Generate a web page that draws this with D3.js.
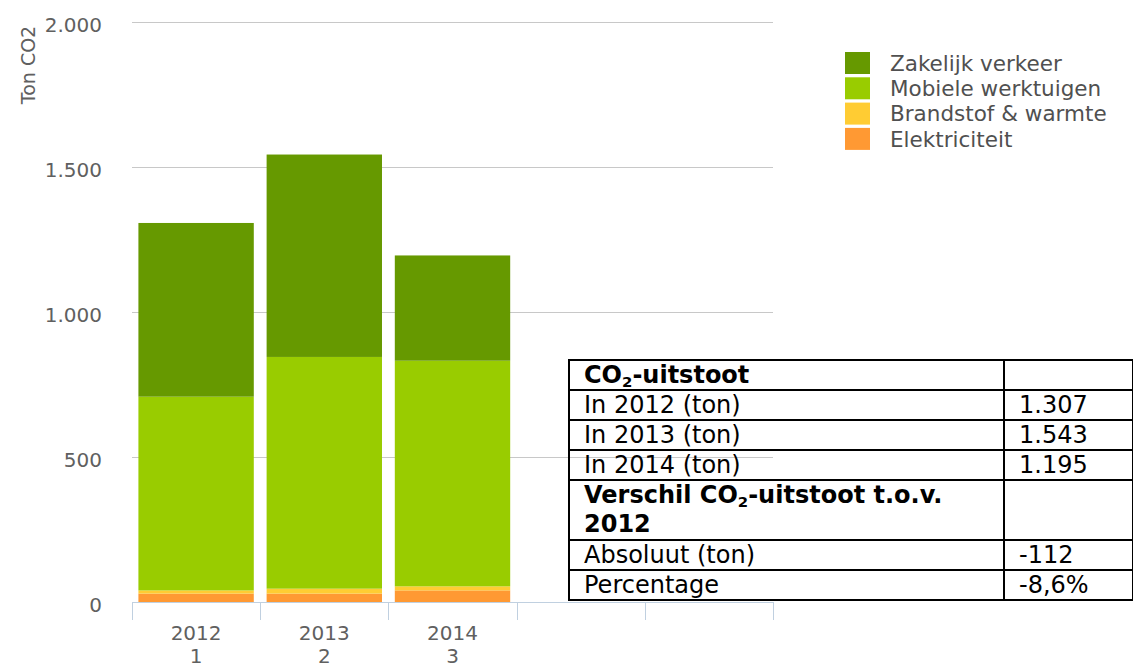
<!DOCTYPE html>
<html>
<head>
<meta charset="utf-8">
<script src="https://cdn.jsdelivr.net/npm/d3@7"></script>
<style>
    body { margin: 0; background: #fff; }
    #wrap { position: relative; width: 1133px; height: 668px; overflow: hidden; }
    svg text { font-family: "DejaVu Sans", sans-serif; fill: #606060; }
    table.co2 {
        position: absolute; left: 568px; top: 359px; width: 564px;
        border-collapse: collapse; table-layout: fixed;
        font-family: "DejaVu Sans", Verdana, sans-serif; font-size: 24px; color: #000;
    }
    table.co2 td { border: 2px solid #000; padding: 0 0 0 14px; line-height: 28px; vertical-align: top; }
    table.co2 td.b { font-weight: bold; }
    table.co2 tr.two td { line-height: 29px; }
    table.co2 sub { font-size: 0.62em; vertical-align: -0.28em; line-height: 0; }
</style>
</head>
<body>
<div id="wrap"></div>
<script>
    var years = ["2012", "2013", "2014"],
        yearNums = ["1", "2", "3"],
        seriesNames = ["Elektriciteit", "Brandstof & warmte", "Mobiele werktuigen", "Zakelijk verkeer"],
        seriesColors = ["#ff9933", "#ffcc33", "#99cc00", "#669900"],
        elektriciteit = [29, 29, 40],
        brandstof = [11, 17, 14],
        mobiele = [668, 799, 778],
        zakelijk = [599, 698, 363],
        yTicks = [0, 500, 1000, 1500, 2000];

    var slots = 5;   // the axis has room for five categories, only three are filled

    var nl = d3.formatLocale({ decimal: ",", thousands: ".", grouping: [3], currency: ["€", ""] }),
        fmtInt = nl.format(",d"),
        fmtPct = nl.format(".1%");

    var rows = years.map(function (y, i) {
        return {
            year: y,
            num: yearNums[i],
            "Elektriciteit": elektriciteit[i],
            "Brandstof & warmte": brandstof[i],
            "Mobiele werktuigen": mobiele[i],
            "Zakelijk verkeer": zakelijk[i]
        };
    });

    var svg = d3.select("#wrap").append("svg")
        .attr("width", 1133)
        .attr("height", 668);

    var x = d3.scaleBand()
        .domain(d3.range(slots))
        .range([132, 773])
        .paddingInner(0.1)
        .paddingOuter(0.05);
    var y = d3.scaleLinear()
        .domain([0, 2000])
        .range([602, 22]);

    // gridlines
    svg.append("g")
        .selectAll("line")
        .data(yTicks.slice(1))
        .enter().append("line")
        .attr("x1", 132).attr("x2", 773)
        .attr("y1", function (d) { return Math.round(y(d)) + 0.5; })
        .attr("y2", function (d) { return Math.round(y(d)) + 0.5; })
        .attr("stroke", "#c8c8c8")
        .attr("stroke-width", 1);

    // y labels
    svg.append("g")
        .selectAll("text")
        .data(yTicks)
        .enter().append("text")
        .attr("x", 102)
        .attr("y", function (d) { return y(d) + 3; })
        .attr("dy", "0.36em")
        .attr("text-anchor", "end")
        .style("font-size", "20px")
        .text(function (d) { return fmtInt(d); });

    svg.append("text")
        .attr("transform", "translate(35,65) rotate(-90)")
        .attr("text-anchor", "middle")
        .style("font-size", "19px")
        .text("Ton CO2");

    // stacked bars
    var stack = d3.stack().keys(seriesNames)(rows);
    svg.append("g")
        .selectAll("g")
        .data(stack)
        .enter().append("g")
        .attr("fill", function (d, i) { return seriesColors[i]; })
        .selectAll("rect")
        .data(function (d) { return d; })
        .enter().append("rect")
        .attr("x", function (d, i) { return x(i); })
        .attr("width", x.bandwidth())
        .attr("y", function (d) { return y(d[1]); })
        .attr("height", function (d) { return y(d[0]) - y(d[1]); });

    // x axis line and ticks
    var xAxis = svg.append("g");
    xAxis.append("line")
        .attr("x1", 132).attr("x2", 773)
        .attr("y1", 602.5).attr("y2", 602.5)
        .attr("stroke", "#c0d0e0");
    xAxis.selectAll("line.tick")
        .data(d3.range(slots + 1))
        .enter().append("line")
        .attr("class", "tick")
        .attr("x1", function (d) { return Math.round(132 + d * x.step()) + 0.5; })
        .attr("x2", function (d) { return Math.round(132 + d * x.step()) + 0.5; })
        .attr("y1", 602).attr("y2", 620)
        .attr("stroke", "#c0d0e0");
    var lab = xAxis.selectAll("text")
        .data(rows)
        .enter().append("text")
        .attr("text-anchor", "middle")
        .style("font-size", "20px")
        .attr("x", function (d, i) { return x(i) + x.bandwidth() / 2; })
        .attr("y", 640);
    lab.append("tspan").text(function (d) { return d.year; });
    lab.append("tspan")
        .attr("x", function (d, i) { return x(i) + x.bandwidth() / 2; })
        .attr("dy", 23)
        .text(function (d) { return d.num; });

    // legend (reversed, top series first)
    var legend = svg.append("g")
        .selectAll("g")
        .data(seriesNames.slice().reverse())
        .enter().append("g")
        .attr("transform", function (d, i) { return "translate(845," + (52 + i * 25.3) + ")"; });
    legend.append("rect")
        .attr("width", 25).attr("height", 22)
        .attr("fill", function (d) { return seriesColors[seriesNames.indexOf(d)]; });
    legend.append("text")
        .attr("x", 45).attr("y", 11)
        .attr("dy", "0.36em")
        .style("font-size", "21.5px")
        .style("fill", "#505050")
        .text(function (d) { return d; });

    // summary table
    var totals = rows.map(function (r) { return d3.sum(seriesNames, function (k) { return r[k]; }); }),
        diff = totals[2] - totals[0];
    var tableRows = [
        { label: "CO<sub>2</sub>-uitstoot", value: "", bold: true },
        { label: "In " + years[0] + " (ton)", value: fmtInt(totals[0]) },
        { label: "In " + years[1] + " (ton)", value: fmtInt(totals[1]) },
        { label: "In " + years[2] + " (ton)", value: fmtInt(totals[2]) },
        { label: "Verschil CO<sub>2</sub>-uitstoot t.o.v. " + years[0], value: "", bold: true, two: true },
        { label: "Absoluut (ton)", value: fmtInt(diff) },
        { label: "Percentage", value: fmtPct(diff / totals[0]) }
    ];
    var table = d3.select("#wrap").append("table").attr("class", "co2");
    var cg = table.append("colgroup");
    cg.append("col").style("width", "435px");
    cg.append("col").style("width", "129px");
    var tr = table.selectAll("tr")
        .data(tableRows)
        .enter().append("tr")
        .attr("class", function (d) { return d.two ? "two" : null; });
    tr.append("td")
        .attr("class", function (d) { return d.bold ? "b" : null; })
        .html(function (d) { return d.label; });
    tr.append("td")
        .text(function (d) { return d.value.replace("−", "-"); });
</script>
</body>
</html>
